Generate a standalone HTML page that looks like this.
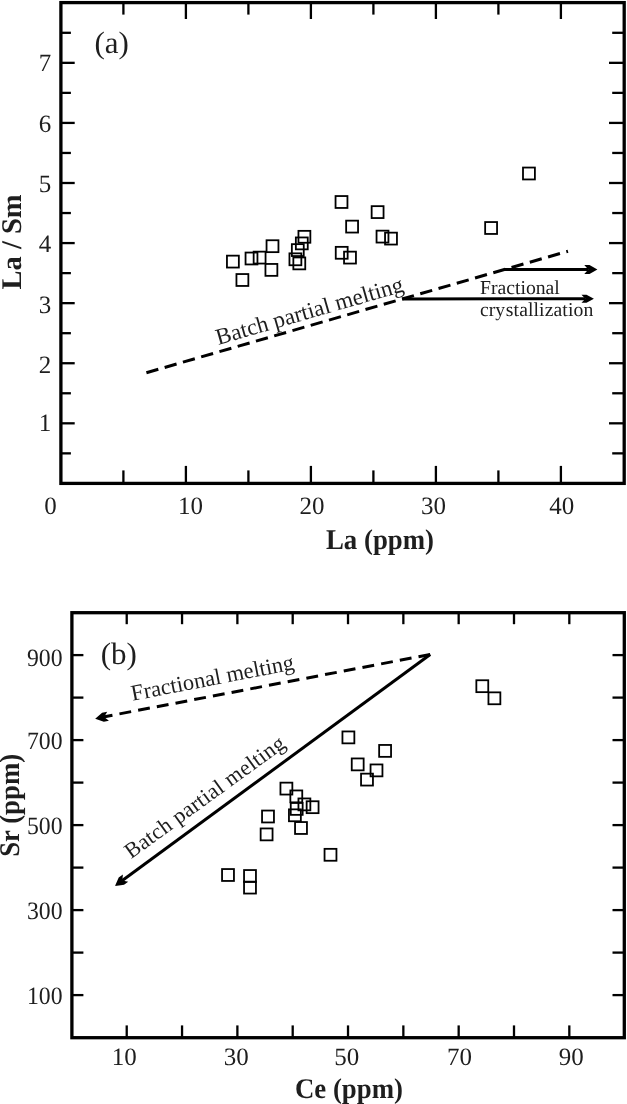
<!DOCTYPE html><html><head><meta charset="utf-8"><style>html,body{margin:0;padding:0;background:#fff;overflow:hidden;}svg{display:block;will-change:transform;}text{font-family:"Liberation Serif",serif;fill:#1e1e1e;text-rendering:geometricPrecision;}</style></head><body>
<svg width="627" height="1104" viewBox="0 0 627 1104">
<rect x="0" y="0" width="627" height="1104" fill="#fff"/>
<g stroke="#000" fill="none" stroke-linecap="butt">
<rect x="60.9" y="2.6" width="563.30" height="480.80" stroke-width="3.3" stroke-linejoin="miter"/>
<line x1="123.40" y1="483.40" x2="123.40" y2="470.40" stroke-width="2.3" />
<line x1="123.40" y1="2.60" x2="123.40" y2="14.60" stroke-width="2.3" />
<line x1="185.90" y1="483.40" x2="185.90" y2="465.90" stroke-width="2.3" />
<line x1="185.90" y1="2.60" x2="185.90" y2="19.00" stroke-width="2.3" />
<line x1="248.40" y1="483.40" x2="248.40" y2="470.40" stroke-width="2.3" />
<line x1="248.40" y1="2.60" x2="248.40" y2="14.60" stroke-width="2.3" />
<line x1="310.90" y1="483.40" x2="310.90" y2="465.90" stroke-width="2.3" />
<line x1="310.90" y1="2.60" x2="310.90" y2="19.00" stroke-width="2.3" />
<line x1="373.40" y1="483.40" x2="373.40" y2="470.40" stroke-width="2.3" />
<line x1="373.40" y1="2.60" x2="373.40" y2="14.60" stroke-width="2.3" />
<line x1="435.90" y1="483.40" x2="435.90" y2="465.90" stroke-width="2.3" />
<line x1="435.90" y1="2.60" x2="435.90" y2="19.00" stroke-width="2.3" />
<line x1="498.40" y1="483.40" x2="498.40" y2="470.40" stroke-width="2.3" />
<line x1="498.40" y1="2.60" x2="498.40" y2="14.60" stroke-width="2.3" />
<line x1="560.90" y1="483.40" x2="560.90" y2="465.90" stroke-width="2.3" />
<line x1="560.90" y1="2.60" x2="560.90" y2="19.00" stroke-width="2.3" />
<line x1="60.90" y1="453.36" x2="70.90" y2="453.36" stroke-width="2.3" />
<line x1="624.20" y1="453.36" x2="612.20" y2="453.36" stroke-width="2.3" />
<line x1="60.90" y1="423.32" x2="74.70" y2="423.32" stroke-width="2.3" />
<line x1="624.20" y1="423.32" x2="609.00" y2="423.32" stroke-width="2.3" />
<line x1="60.90" y1="393.28" x2="70.90" y2="393.28" stroke-width="2.3" />
<line x1="624.20" y1="393.28" x2="612.20" y2="393.28" stroke-width="2.3" />
<line x1="60.90" y1="363.24" x2="74.70" y2="363.24" stroke-width="2.3" />
<line x1="624.20" y1="363.24" x2="609.00" y2="363.24" stroke-width="2.3" />
<line x1="60.90" y1="333.20" x2="70.90" y2="333.20" stroke-width="2.3" />
<line x1="624.20" y1="333.20" x2="612.20" y2="333.20" stroke-width="2.3" />
<line x1="60.90" y1="303.16" x2="74.70" y2="303.16" stroke-width="2.3" />
<line x1="624.20" y1="303.16" x2="609.00" y2="303.16" stroke-width="2.3" />
<line x1="60.90" y1="273.12" x2="70.90" y2="273.12" stroke-width="2.3" />
<line x1="624.20" y1="273.12" x2="612.20" y2="273.12" stroke-width="2.3" />
<line x1="60.90" y1="243.08" x2="74.70" y2="243.08" stroke-width="2.3" />
<line x1="624.20" y1="243.08" x2="609.00" y2="243.08" stroke-width="2.3" />
<line x1="60.90" y1="213.04" x2="70.90" y2="213.04" stroke-width="2.3" />
<line x1="624.20" y1="213.04" x2="612.20" y2="213.04" stroke-width="2.3" />
<line x1="60.90" y1="183.00" x2="74.70" y2="183.00" stroke-width="2.3" />
<line x1="624.20" y1="183.00" x2="609.00" y2="183.00" stroke-width="2.3" />
<line x1="60.90" y1="152.96" x2="70.90" y2="152.96" stroke-width="2.3" />
<line x1="624.20" y1="152.96" x2="612.20" y2="152.96" stroke-width="2.3" />
<line x1="60.90" y1="122.92" x2="74.70" y2="122.92" stroke-width="2.3" />
<line x1="624.20" y1="122.92" x2="609.00" y2="122.92" stroke-width="2.3" />
<line x1="60.90" y1="92.88" x2="70.90" y2="92.88" stroke-width="2.3" />
<line x1="624.20" y1="92.88" x2="612.20" y2="92.88" stroke-width="2.3" />
<line x1="60.90" y1="62.84" x2="74.70" y2="62.84" stroke-width="2.3" />
<line x1="624.20" y1="62.84" x2="609.00" y2="62.84" stroke-width="2.3" />
<line x1="60.90" y1="32.80" x2="70.90" y2="32.80" stroke-width="2.3" />
<line x1="624.20" y1="32.80" x2="612.20" y2="32.80" stroke-width="2.3" />
</g>
<text x="51.3" y="71.3" font-size="25" text-anchor="end">7</text>
<text x="51.3" y="131.7" font-size="25" text-anchor="end">6</text>
<text x="51.3" y="191.9" font-size="25" text-anchor="end">5</text>
<text x="51.3" y="252.1" font-size="25" text-anchor="end">4</text>
<text x="51.3" y="312.7" font-size="25" text-anchor="end">3</text>
<text x="51.3" y="373.4" font-size="25" text-anchor="end">2</text>
<text x="51.3" y="430.8" font-size="25" text-anchor="end">1</text>
<text x="50.4" y="513.5" font-size="25" text-anchor="middle">0</text>
<text x="190.4" y="513.5" font-size="25" text-anchor="middle">10</text>
<text x="312.1" y="513.5" font-size="25" text-anchor="middle">20</text>
<text x="433.6" y="513.5" font-size="25" text-anchor="middle">30</text>
<text x="561.7" y="513.5" font-size="25" text-anchor="middle">40</text>
<text transform="translate(326.0,549.1) scale(0.94,1)" font-size="28.5" font-weight="bold">La (ppm)</text>
<text transform="translate(21,289.5) rotate(-90)" font-size="28.5" font-weight="bold">La / Sm</text>
<text x="94.4" y="52.6" font-size="31">(a)</text>
<g stroke="#000" fill="none">
<line x1="146.40" y1="372.70" x2="568.00" y2="251.20" stroke-width="3" stroke-dasharray="12.4 6.6"/>
<line x1="504.40" y1="269.40" x2="588.00" y2="269.40" stroke-width="3" />
<line x1="402.40" y1="298.90" x2="585.00" y2="298.70" stroke-width="3" />
</g>
<polygon fill="#000" points="597.40,269.40 589.50,264.90 584.30,264.90 588.30,269.40 584.30,273.90 589.50,273.90"/>
<polygon fill="#000" points="593.90,298.70 586.50,294.70 581.50,294.70 585.30,298.70 581.50,302.70 586.50,302.70"/>
<text transform="translate(218.3,344.9) rotate(-16.08)" font-size="23">Batch partial melting</text>
<text x="480" y="293.7" font-size="19.7">Fractional</text>
<text x="480" y="316.1" font-size="19.7">cry</text>
<text x="505.8" y="316.1" font-size="19.7" letter-spacing="0.1">stallization</text>
<g stroke="#000" fill="none">
<rect x="226.95" y="255.65" width="11.9" height="11.9" stroke-width="1.8"/>
<rect x="236.45" y="274.05" width="11.9" height="11.9" stroke-width="1.8"/>
<rect x="245.55" y="252.55" width="11.9" height="11.9" stroke-width="1.8"/>
<rect x="253.65" y="251.65" width="11.9" height="11.9" stroke-width="1.8"/>
<rect x="266.55" y="240.25" width="11.9" height="11.9" stroke-width="1.8"/>
<rect x="265.45" y="263.95" width="11.9" height="11.9" stroke-width="1.8"/>
<rect x="298.45" y="230.85" width="11.9" height="11.9" stroke-width="1.8"/>
<rect x="295.85" y="237.45" width="11.9" height="11.9" stroke-width="1.8"/>
<rect x="291.85" y="244.15" width="11.9" height="11.9" stroke-width="1.8"/>
<rect x="289.45" y="253.35" width="11.9" height="11.9" stroke-width="1.8"/>
<rect x="293.35" y="257.45" width="11.9" height="11.9" stroke-width="1.8"/>
<rect x="335.55" y="196.05" width="11.9" height="11.9" stroke-width="1.8"/>
<rect x="371.65" y="206.15" width="11.9" height="11.9" stroke-width="1.8"/>
<rect x="346.15" y="220.65" width="11.9" height="11.9" stroke-width="1.8"/>
<rect x="376.55" y="230.65" width="11.9" height="11.9" stroke-width="1.8"/>
<rect x="385.05" y="232.65" width="11.9" height="11.9" stroke-width="1.8"/>
<rect x="335.75" y="246.85" width="11.9" height="11.9" stroke-width="1.8"/>
<rect x="344.05" y="251.65" width="11.9" height="11.9" stroke-width="1.8"/>
<rect x="523.00" y="167.55" width="11.9" height="11.9" stroke-width="1.8"/>
<rect x="485.15" y="222.05" width="11.9" height="11.9" stroke-width="1.8"/>
</g>
<g stroke="#000" fill="none" stroke-linecap="butt">
<rect x="71.9" y="612.7" width="552.40" height="425.00" stroke-width="3.3"/>
<line x1="126.72" y1="1037.70" x2="126.72" y2="1025.40" stroke-width="2.3" />
<line x1="126.72" y1="612.70" x2="126.72" y2="624.20" stroke-width="2.3" />
<line x1="182.05" y1="1037.70" x2="182.05" y2="1025.40" stroke-width="2.3" />
<line x1="182.05" y1="612.70" x2="182.05" y2="624.20" stroke-width="2.3" />
<line x1="237.38" y1="1037.70" x2="237.38" y2="1025.40" stroke-width="2.3" />
<line x1="237.38" y1="612.70" x2="237.38" y2="624.20" stroke-width="2.3" />
<line x1="292.70" y1="1037.70" x2="292.70" y2="1025.40" stroke-width="2.3" />
<line x1="292.70" y1="612.70" x2="292.70" y2="624.20" stroke-width="2.3" />
<line x1="348.02" y1="1037.70" x2="348.02" y2="1025.40" stroke-width="2.3" />
<line x1="348.02" y1="612.70" x2="348.02" y2="624.20" stroke-width="2.3" />
<line x1="403.35" y1="1037.70" x2="403.35" y2="1025.40" stroke-width="2.3" />
<line x1="403.35" y1="612.70" x2="403.35" y2="624.20" stroke-width="2.3" />
<line x1="458.67" y1="1037.70" x2="458.67" y2="1025.40" stroke-width="2.3" />
<line x1="458.67" y1="612.70" x2="458.67" y2="624.20" stroke-width="2.3" />
<line x1="514.00" y1="1037.70" x2="514.00" y2="1025.40" stroke-width="2.3" />
<line x1="514.00" y1="612.70" x2="514.00" y2="624.20" stroke-width="2.3" />
<line x1="569.32" y1="1037.70" x2="569.32" y2="1025.40" stroke-width="2.3" />
<line x1="569.32" y1="612.70" x2="569.32" y2="624.20" stroke-width="2.3" />
<line x1="71.90" y1="995.10" x2="83.40" y2="995.10" stroke-width="2.3" />
<line x1="624.30" y1="995.10" x2="612.50" y2="995.10" stroke-width="2.3" />
<line x1="71.90" y1="952.60" x2="83.40" y2="952.60" stroke-width="2.3" />
<line x1="624.30" y1="952.60" x2="612.50" y2="952.60" stroke-width="2.3" />
<line x1="71.90" y1="910.10" x2="83.40" y2="910.10" stroke-width="2.3" />
<line x1="624.30" y1="910.10" x2="612.50" y2="910.10" stroke-width="2.3" />
<line x1="71.90" y1="867.60" x2="83.40" y2="867.60" stroke-width="2.3" />
<line x1="624.30" y1="867.60" x2="612.50" y2="867.60" stroke-width="2.3" />
<line x1="71.90" y1="825.10" x2="83.40" y2="825.10" stroke-width="2.3" />
<line x1="624.30" y1="825.10" x2="612.50" y2="825.10" stroke-width="2.3" />
<line x1="71.90" y1="782.60" x2="83.40" y2="782.60" stroke-width="2.3" />
<line x1="624.30" y1="782.60" x2="612.50" y2="782.60" stroke-width="2.3" />
<line x1="71.90" y1="740.10" x2="83.40" y2="740.10" stroke-width="2.3" />
<line x1="624.30" y1="740.10" x2="612.50" y2="740.10" stroke-width="2.3" />
<line x1="71.90" y1="697.60" x2="83.40" y2="697.60" stroke-width="2.3" />
<line x1="624.30" y1="697.60" x2="612.50" y2="697.60" stroke-width="2.3" />
<line x1="71.90" y1="655.10" x2="83.40" y2="655.10" stroke-width="2.3" />
<line x1="624.30" y1="655.10" x2="612.50" y2="655.10" stroke-width="2.3" />
</g>
<text transform="translate(62.6,1003.6) scale(0.95,1)" font-size="25" text-anchor="end">100</text>
<text transform="translate(62.6,919.2) scale(0.95,1)" font-size="25" text-anchor="end">300</text>
<text transform="translate(62.6,834.2) scale(0.95,1)" font-size="25" text-anchor="end">500</text>
<text transform="translate(62.6,749.2) scale(0.95,1)" font-size="25" text-anchor="end">700</text>
<text transform="translate(62.6,666.3) scale(0.95,1)" font-size="25" text-anchor="end">900</text>
<text x="124.2" y="1064.6" font-size="25" text-anchor="middle">10</text>
<text x="236.2" y="1064.6" font-size="25" text-anchor="middle">30</text>
<text x="346.8" y="1064.6" font-size="25" text-anchor="middle">50</text>
<text x="459.4" y="1064.6" font-size="25" text-anchor="middle">70</text>
<text x="571.2" y="1064.6" font-size="25" text-anchor="middle">90</text>
<text transform="translate(295.0,1097.5) scale(0.94,1)" font-size="28.5" font-weight="bold">Ce (ppm)</text>
<text transform="translate(19,856.8) rotate(-90) scale(0.94,1)" font-size="28.5" font-weight="bold">Sr (ppm)</text>
<text x="100.7" y="664.2" font-size="31">(b)</text>
<g stroke="#000" fill="none">
<line x1="430.20" y1="654.50" x2="100.00" y2="717.60" stroke-width="3" stroke-dasharray="11.9 7.13"/>
<line x1="430.20" y1="654.50" x2="122.00" y2="880.80" stroke-width="3" />
</g>
<polygon fill="#000" points="95.20,718.70 103.81,721.63 108.91,720.65 104.14,716.99 107.22,711.81 102.11,712.79"/>
<polygon fill="#000" points="115.00,885.90 124.03,884.85 128.22,881.78 122.34,880.51 122.90,874.52 118.71,877.60"/>
<text transform="translate(132.6,700.8) rotate(-11)" font-size="22.5">Fractional melting</text>
<text transform="translate(131.0,859.3) rotate(-36)" font-size="22" letter-spacing="0.33">Batch partial melting</text>
<g stroke="#000" fill="none">
<rect x="222.05" y="869.05" width="11.9" height="11.9" stroke-width="1.8"/>
<rect x="244.05" y="870.05" width="11.9" height="11.9" stroke-width="1.8"/>
<rect x="244.05" y="881.65" width="11.9" height="11.9" stroke-width="1.8"/>
<rect x="260.65" y="828.45" width="11.9" height="11.9" stroke-width="1.8"/>
<rect x="262.05" y="810.55" width="11.9" height="11.9" stroke-width="1.8"/>
<rect x="280.45" y="782.65" width="11.9" height="11.9" stroke-width="1.8"/>
<rect x="290.35" y="790.45" width="11.9" height="11.9" stroke-width="1.8"/>
<rect x="298.45" y="798.45" width="11.9" height="11.9" stroke-width="1.8"/>
<rect x="306.65" y="801.25" width="11.9" height="11.9" stroke-width="1.8"/>
<rect x="290.75" y="802.95" width="11.9" height="11.9" stroke-width="1.8"/>
<rect x="288.95" y="809.35" width="11.9" height="11.9" stroke-width="1.8"/>
<rect x="295.05" y="822.05" width="11.9" height="11.9" stroke-width="1.8"/>
<rect x="324.55" y="848.85" width="11.9" height="11.9" stroke-width="1.8"/>
<rect x="342.45" y="731.45" width="11.9" height="11.9" stroke-width="1.8"/>
<rect x="379.15" y="744.95" width="11.9" height="11.9" stroke-width="1.8"/>
<rect x="351.75" y="758.45" width="11.9" height="11.9" stroke-width="1.8"/>
<rect x="370.55" y="764.45" width="11.9" height="11.9" stroke-width="1.8"/>
<rect x="361.05" y="773.65" width="11.9" height="11.9" stroke-width="1.8"/>
<rect x="476.35" y="680.25" width="11.9" height="11.9" stroke-width="1.8"/>
<rect x="488.45" y="692.35" width="11.9" height="11.9" stroke-width="1.8"/>
</g>
</svg></body></html>
